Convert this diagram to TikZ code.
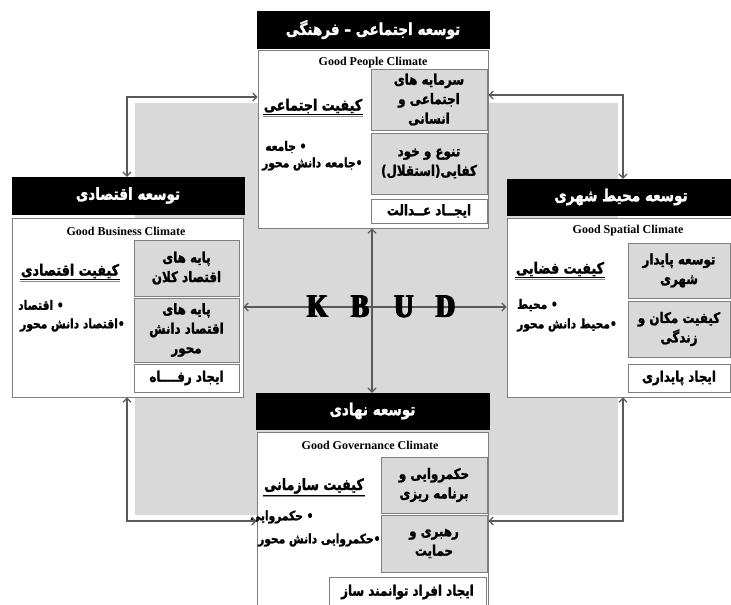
\documentclass[tikz,border=0pt]{standalone}
\usepackage{fontspec}
\setmainfont{Liberation Serif}
\newfontfamily\farsi[Script=Arabic, FakeStretch=0.82, BoldFeatures={FakeBold=1.5}]{DejaVu Sans}
\newfontfamily\kbfont{Liberation Serif Bold}
\TeXXeTstate=1
\usetikzlibrary{arrows.meta}
\newcommand{\fa}[1]{\beginR #1\endR}
\newcommand{\heavy}[1]{\makebox[0pt][l]{\hspace{-1.1pt}#1}\makebox[0pt][l]{\hspace{1.1pt}#1}\makebox[0pt][l]{\hspace{-0.5pt}#1}\makebox[0pt][l]{\hspace{0.5pt}#1}#1}
\definecolor{bggray}{HTML}{D9D9D9}
\definecolor{edgegray}{HTML}{7F7F7F}
\definecolor{conncol}{HTML}{595959}
\tikzset{
  hdr/.style={fill=black, draw=black, text=white, inner sep=0pt,
    font=\farsi\bfseries\fontsize{16.5}{18}\selectfont},
  body/.style={fill=white, draw=edgegray, line width=0.8pt, inner sep=0pt},
  gbox/.style={fill=bggray, draw=edgegray, line width=0.8pt, align=center, inner sep=0pt,
    font=\farsi\bfseries\fontsize{14.5}{19.5}\selectfont},
  wbox/.style={fill=white, draw=edgegray, line width=0.8pt, inner sep=0pt,
    font=\farsi\bfseries\fontsize{14.5}{15}\selectfont},
  eng/.style={inner sep=0pt, font=\bfseries\fontsize{12}{14}\selectfont},
  qual/.style={inner sep=1pt, font=\farsi\bfseries\fontsize{15.5}{16}\selectfont},
  bul/.style={anchor=west, inner sep=0pt, font=\farsi\bfseries\fontsize{13}{14}\selectfont},
  kbud/.style={inner sep=0pt, font=\kbfont\fontsize{33}{33}\selectfont},
  conn/.style={draw=conncol, line width=1.2pt,
    {Straight Barb[length=4pt,width=8pt]}-{Straight Barb[length=4pt,width=8pt]}},
  ul/.style={draw=black, line width=0.8pt},
  ulsh/.style={draw=black!45, line width=1pt},
}
\begin{document}
\begin{tikzpicture}[x=1pt,y=-1pt]
\useasboundingbox (0,0) rectangle (731,605);
\fill[white] (0,0) rectangle (731,605);
% background gray square
\fill[bggray] (135,103) rectangle (618,515);

% helper coordinates
\coordinate (cTL) at (127,97);
\coordinate (cTR) at (623,95);
\coordinate (cBL) at (127,521);
\coordinate (cBR) at (623,521);
\coordinate (ctr) at (372,307);

% ---------------- top box
\node[body, minimum width=230pt, minimum height=178pt] (tb) at (373,139) {};
\node[hdr, minimum width=232pt, minimum height=37pt] (th) at (373,29.5) {\fa{توسعه اجتماعی – فرهنگی}};
\node[eng] (te) at (373,63) {Good People Climate};
\node[gbox, minimum width=116pt, minimum height=61pt] (tg1) at (429,99.5) {\fa{سرمایه های}\\\fa{اجتماعی و}\\\fa{انسانی}};
\node[gbox, minimum width=116pt, minimum height=61pt] (tg2) at (429,163.5) {\fa{تنوع و خود}\\\fa{کفایی(استقلال)}};
\node[wbox, minimum width=116pt, minimum height=24pt] (tw) at (429,211) {\fa{ایجــاد عــدالت}};
\node[qual] (tq) at (313,106) {\fa{کیفیت اجتماعی}};
\node[bul] (tb1) at (265,147) {\fa{• جامعه}};
\node[bul] (tb2) at (262,164) {\fa{•جامعه دانش محور}};

% ---------------- left box
\node[body, minimum width=231pt, minimum height=179pt] (lb) at (127.5,307.5) {};
\node[hdr, minimum width=232pt, minimum height=37pt] (lh) at (128,195.5) {\fa{توسعه اقتصادی}};
\node[eng] (le) at (126,231) {Good Business Climate};
\node[gbox, minimum width=105pt, minimum height=56pt] (lg1) at (186.5,268) {\fa{پایه های}\\\fa{اقتصاد کلان}};
\node[gbox, minimum width=105pt, minimum height=64pt] (lg2) at (186.5,330) {\fa{پایه های}\\\fa{اقتصاد دانش}\\\fa{محور}};
\node[wbox, minimum width=105pt, minimum height=28pt] (lw) at (186.5,378) {\fa{ایجاد رفــــاه}};
\node[qual] (lq) at (70,271) {\fa{کیفیت اقتصادی}};
\node[bul] (lb1) at (18,305) {\fa{• اقتصاد}};
\node[bul] (lb2) at (20,325) {\fa{•اقتصاد دانش محور}};

% ---------------- right box
\node[body, minimum width=228pt, minimum height=179pt] (rb) at (621,307.5) {};
\node[hdr, minimum width=228pt, minimum height=36pt] (rh) at (621,197) {\fa{توسعه محیط شهری}};
\node[eng] (re) at (628,231) {Good Spatial Climate};
\node[gbox, minimum width=102pt, minimum height=55pt] (rg1) at (679,270.5) {\fa{توسعه پایدار}\\\fa{شهری}};
\node[gbox, minimum width=102pt, minimum height=56pt] (rg2) at (679,329) {\fa{کیفیت مکان و}\\\fa{زندگی}};
\node[wbox, minimum width=102pt, minimum height=28pt] (rw) at (679,378) {\fa{ایجاد پایداری}};
\node[qual] (rq) at (560,269) {\fa{کیفیت فضایی}};
\node[bul] (rb1) at (517,305) {\fa{• محیط}};
\node[bul] (rb2) at (517,325) {\fa{•محیط دانش محور}};

% ---------------- bottom box
\node[body, minimum width=231pt, minimum height=183pt] (bb) at (372.5,523.5) {};
\node[hdr, minimum width=233pt, minimum height=36pt] (bh) at (372.5,411) {\fa{توسعه نهادی}};
\node[eng] (be) at (370,445) {Good Governance Climate};
\node[gbox, minimum width=106pt, minimum height=56pt] (bg1) at (434,485) {\fa{حکمروایی و}\\\fa{برنامه ریزی}};
\node[gbox, minimum width=106pt, minimum height=57pt] (bg2) at (434,543.5) {\fa{رهبری و}\\\fa{حمایت}};
\node[wbox, minimum width=157pt, minimum height=30pt] (bw) at (407.5,592) {\fa{ایجاد افراد توانمند ساز}};
\node[qual] (bq) at (314,486) {\fa{کیفیت سازمانی}};
\node[bul] (bb1) at (250,517) {\fa{• حکمروایی}};
\node[bul] (bb2) at (258,540) {\fa{•حکمروایی دانش محور}};

% underlines
\foreach \q in {tq,lq,rq,bq}{
  \draw[ulsh] ([yshift=-1.8pt]\q.south west) -- ([yshift=-1.8pt]\q.south east);
  \draw[ul] (\q.south west) -- (\q.south east);
}

% ---------------- centre cross
\draw[conn] (lb.east |- ctr) -- (rb.west |- ctr);
\draw[conn] (tb.south -| ctr) -- (bh.north -| ctr);
\node[kbud] (kK) at (317.5,307) {\heavy{\scalebox{0.8}[1]{K}}};
\node[kbud] (kB) at (360,307) {\heavy{\scalebox{0.8}[1]{B}}};
\node[kbud] (kU) at (404,307) {\heavy{\scalebox{0.8}[1]{U}}};
\node[kbud] (kD) at (445.5,307) {\heavy{\scalebox{0.8}[1]{D}}};

% ---------------- corner connectors
\draw[conn] (lh.north -| cTL) |- (tb.west |- cTL);
\draw[conn] (rh.north -| cTR) |- (tb.east |- cTR);
\draw[conn] (lb.south -| cBL) |- (bb.west |- cBL);
\draw[conn] (rb.south -| cBR) |- (bb.east |- cBR);
\end{tikzpicture}
\end{document}
